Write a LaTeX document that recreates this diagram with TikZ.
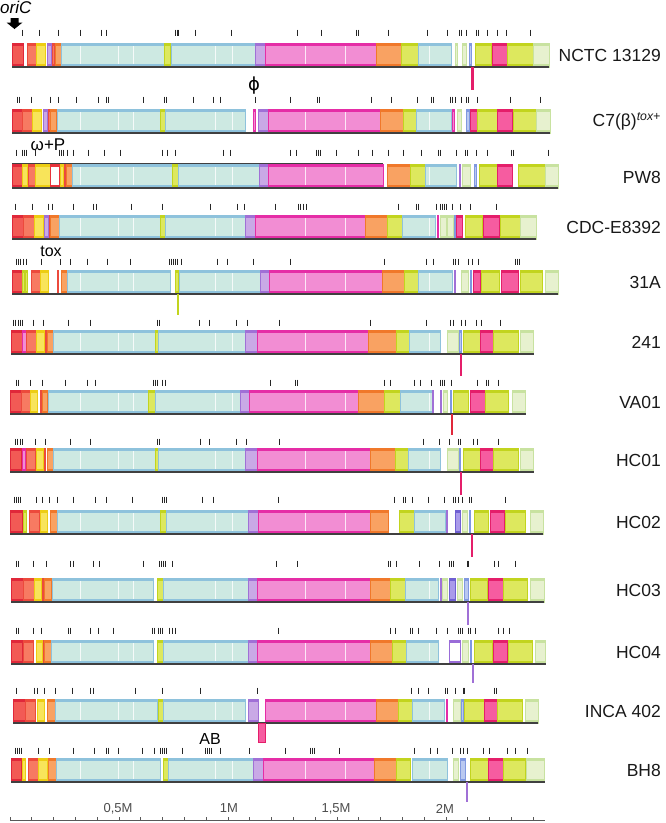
\documentclass[tikz,border=0pt]{standalone}
\usepackage{fontspec}
\setmainfont{Liberation Sans}
\newfontfamily\djv{DejaVu Sans}
\definecolor{Rlt}{HTML}{F25A55}\definecolor{Rdk}{HTML}{E0283A}
\definecolor{Slt}{HTML}{F77A62}\definecolor{Sdk}{HTML}{EC4A3C}
\definecolor{Ylt}{HTML}{F8E45A}\definecolor{Ydk}{HTML}{EDCD12}
\definecolor{Plt}{HTML}{C9A9E6}\definecolor{Pdk}{HTML}{A070D6}
\definecolor{Olt}{HTML}{F9A262}\definecolor{Odk}{HTML}{F0782A}
\definecolor{Clt}{HTML}{CDE9E2}\definecolor{Cdk}{HTML}{8EC2DC}
\definecolor{Glt}{HTML}{DDE85E}\definecolor{Gdk}{HTML}{C2D41E}
\definecolor{Llt}{HTML}{E7F1CF}\definecolor{Ldk}{HTML}{C8E2A0}
\definecolor{Mlt}{HTML}{F28DD3}\definecolor{Mdk}{HTML}{E52DA6}
\definecolor{Hlt}{HTML}{F65CA0}\definecolor{Hdk}{HTML}{E41E6A}
\definecolor{Blt}{HTML}{B9C8F0}\definecolor{Bdk}{HTML}{7F98E0}
\definecolor{Vlt}{HTML}{A99AEA}\definecolor{Vdk}{HTML}{6F5FD2}
\definecolor{Wlt}{HTML}{FFFFFF}\definecolor{Wdk}{HTML}{9A6CD8}
\definecolor{Xlt}{HTML}{FFFFFF}\definecolor{Xdk}{HTML}{E8333A}
\newcommand\blocks[2]{%
  \foreach \xa/\xb/\cl in {#2}{%
    \fill[fill=\cl lt] (\xa,#1) rectangle (\xb,#1+24);
    \fill[fill=\cl dk] (\xa,#1) rectangle (\xb,#1+2.6);
    \fill[fill=\cl dk] (\xa,#1+21.4) rectangle (\xb,#1+24);
    \draw[draw=\cl dk,line width=0.5pt] (\xa,#1) rectangle (\xb,#1+24);
  }%
  \foreach \g in {80,118,133,215,232,305,345,429}{%
    \fill[white,opacity=0.8] (\g-0.4,#1+3) rectangle (\g+0.4,#1+21);
  }}
\newcommand\tks[2]{\foreach \t in {#2}{\draw[tk] (\t,#1-6.5) -- (\t,#1);}}
\begin{document}
\begin{tikzpicture}[x=1pt,y=-1pt,
  tk/.style={line width=1pt,draw=black!85},
  base/.style={line width=1.3pt,draw=black!75},
  lab/.style={anchor=east,inner sep=0pt,font=\fontsize{17.5}{20}\selectfont,text=black!90},
  ann/.style={inner sep=0pt,font=\fontsize{16}{18}\selectfont,text=black},
  scl/.style={line width=1pt,draw=black!65},
  sclab/.style={inner sep=0pt,font=\fontsize{13}{15}\selectfont,text=black!70}]
\useasboundingbox (0,0) rectangle (666,823);
% oriC
\node[anchor=north west,inner sep=0pt,font=\itshape\fontsize{17}{20}\selectfont] (ori) at (0,1) {oriC};
\fill[black] (10.5,18) -- (18.5,18) -- (18.5,22.5) -- (22.5,22.5) -- (14.5,29) -- (6.5,22.5) -- (10.5,22.5) -- cycle;
% Track 1
\tks{36}{22,39,58,80,101,106,175,177,178,195,231,297,321,356,358,388,427,447,459,461,466,476,478,487,497,506,530}
\blocks{43}{12/23/R,27/36/S,36/45/Y,47/51/P,52/54/S,55/61/O,61/164/C,164/170/G,171/255/C,255/265/P,265/376/M,376/401/O,401/418/G,418/451/C,455/457/L,462/466/L,469/471/B,475/491/G,492/507/H,507/533/G,533/549/L}
\draw[base] (12,67) -- (549,67);
\fill[Hdk] (471,67) rectangle (474,90);
\node[lab] (l1) at (661,55) {NCTC 13129};
% Track 2
\node[ann,font=\djv\fontsize{18}{20}\selectfont] (phi) at (254,86) {ϕ};
\tks{103}{17,19,31,50,58,76,98,106,108,143,164,166,193,213,220,255,290,317,319,371,391,417,431,433,450,452,455,461,466,468,477,510,540}
\blocks{109}{12/22/R,22/32/S,32/41/Y,43/47/P,48/50/S,50/56/O,57/160/C,160/165/G,165/245/C,253/255/M,258/268/P,268/380/M,380/403/O,403/416/G,416/451/C,452/454/M,457/461/L,466/469/B,470/477/H,477/497/G,497/512/H,513/536/G,536/550/L}
\draw[base] (12,133) -- (550,133);
\node[lab] (l2) at (661,121) {C7(β)\textsuperscript{\itshape tox+}};
% Track 3
\node[ann,font=\fontsize{17}{19}\selectfont] (wp) at (48,145) {ω+P};
\tks{156}{16,22,24,26,35,59,61,63,67,73,88,104,120,162,167,175,223,230,290,296,316,318,320,336,358,372,388,403,421,438,440,456,465,467,476,487,511,513,548}
\blocks{164}{12/22/R,22/27/Y,28/35/S,35/50/Y,50/59/X,60/63/Y,64/65/S,66/72/O,72/172/C,172/178/G,178/259/C,259/268/P,268/383/M,387/410/O,410/425/G,425/456/C,459/460/P,462/470/L,474/476/B,479/497/G,497/512/H,518/545/G,545/558/L}
\draw[base] (12,163.5) -- (383,163.5);
\draw[base] (12,188) -- (558,188);
\node[lab] (l3) at (661,177) {PW8};
% Track 4
\tks{210}{15,32,48,52,73,93,96,131,162,210,237,244,275,298,300,303,306,398,416,418,436,440,442,444,446,452,460,470,496}
\blocks{215}{12/23/R,23/34/S,34/43/Y,44/48/P,49/50/S,50/59/O,59/160/C,160/165/G,165/245/C,245/255/P,255/365/M,365/387/O,387/402/G,402/435/C,437/438/M,440/446/L,447/453/L,454/455/B,456/462/H,465/482/G,483/499/H,500/520/G,520/536/L}
\draw[base] (12,239) -- (536,239);
\node[lab] (l4) at (661,227) {CDC-E8392};
% Track 5
\node[ann] (tox) at (51,251) {tox};
\tks{265}{16,18,20,23,26,41,60,70,87,107,130,169,171,173,175,177,181,217,227,253,290,384,426,433,453,455,458,468,472,478,515,517,519}
\blocks{270}{12/22/R,22/24/G,25/27/G,31/40/S,40/48/Y,57/58/S,61/67/O,67/170/C,175/178/G,179/260/C,260/269/P,269/382/M,382/404/O,404/418/G,418/452/C,454/455/P,461/468/L,470/471/B,473/480/H,481/499/G,501/518/H,520/542/G,545/558/L}
\draw[base] (12,294) -- (558,294);
\fill[Gdk] (177,294) rectangle (179,315);
\node[lab] (l5) at (661,282) {31A};
% Track 6
\tks{326}{13,15,18,20,22,33,43,68,90,157,159,199,209,236,247,279,370,426,450,453,461,465,476,481,500}
\blocks{330}{11/22/R,22/26/M,26/36/S,36/44/Y,45/46/S,47/53/O,53/155/C,155/158/G,158/245/C,245/257/P,257/368/M,368/396/O,396/409/G,409/440/C,447/458/L,459/461/B,463/480/G,480/493/H,493/518/G,520/533/L}
\draw[base] (11,354) -- (534,354);
\fill[Hdk] (460,354) rectangle (462,376);
\node[lab] (l6) at (661,342) {241};
% Track 7
\tks{386}{16,18,30,42,65,87,95,153,155,157,162,165,270,295,297,384,390,414,420,431,440,442,444,451,477,486,488,498}
\blocks{390}{10/21/R,21/30/S,30/37/Y,40/41/S,42/47/O,48/148/C,148/155/G,155/240/C,240/249/P,249/358/M,358/384/O,384/400/G,400/432/C,432/433/P,440/441/P,443/447/L,450/451/B,453/468/G,470/485/H,485/508/G,512/525/L}
\draw[base] (10,414) -- (526,414);
\fill[Rdk] (451,414) rectangle (453,435);
\node[lab] (l7) at (661,402) {VA01};
% Track 8
\tks{445}{15,17,20,22,35,45,70,90,157,159,200,209,236,246,279,423,439,449,458,460,473,477,498}
\blocks{448}{10/21/R,22/25/M,26/35/S,36/43/Y,44/45/S,47/53/O,53/155/C,155/158/G,158/245/C,245/257/P,257/370/M,370/395/O,395/408/G,408/440/C,447/458/L,459/460/B,463/480/G,480/493/H,493/518/G,520/533/L}
\draw[base] (10,472) -- (534,472);
\fill[Hdk] (460,472) rectangle (462,495);
\node[lab] (l8) at (661,460) {HC01};
% Track 9
\tks{503}{14,16,18,20,36,42,49,57,73,95,106,132,162,164,166,202,213,278,394,403,405,412,428,444,453,455,458,462,469,471,505}
\blocks{510}{10/22/R,23/26/G,29/39/S,40/47/Y,50/57/O,57/160/C,160/166/G,166/248/C,248/258/P,258/370/M,370/388/O,399/414/G,414/445/C,446/447/P,455/460/V,462/467/L,469/470/B,474/488/G,490/504/H,505/525/G,530/543/L}
\draw[base] (10,534) -- (543,534);
\fill[Hdk] (471,534) rectangle (473,557);
\node[lab] (l9) at (661,522) {HC02};
% Track 10
\tks{567}{16,18,33,46,70,73,93,99,143,159,161,163,165,172,276,297,388,390,396,419,439,449,451,453,467,468,494,498,515}
\blocks{578}{11/23/R,23/34/S,34/41/Y,42/43/S,44/51/O,52/153/C,157/163/G,163/248/C,248/257/P,257/370/M,370/390/O,390/405/G,405/438/C,440/441/P,442/447/L,449/455/V,457/462/L,464/468/B,470/487/G,488/503/H,503/527/G,530/544/L}
\draw[base] (11,602) -- (544,602);
\fill[Pdk] (467,602) rectangle (469,625);
\node[lab] (l10) at (661,590) {HC03};
% Track 11
\tks{634}{16,18,33,41,68,70,90,98,113,152,154,158,160,162,169,172,175,278,390,395,410,412,418,436,447,458,460,462,468,470,475,498,503,509}
\blocks{640}{11/22/R,23/33/S,36/42/Y,43/44/S,44/51/O,51/153/C,157/163/G,163/248/C,248/257/P,257/370/M,370/392/O,392/406/G,406/438/C,449/460/W,462/468/L,470/471/B,474/492/G,493/507/H,508/532/G,535/545/L}
\draw[base] (11,664) -- (546,664);
\fill[Pdk] (472,664) rectangle (474,683);
\node[lab] (l11) at (661,652) {HC04};
% Track 12
\tks{694}{16,34,37,44,55,72,90,93,135,162,200,257,411,418,428,445,447,455,463,464,494,496}
\blocks{699}{13/25/R,25/35/S,37/44/Y,47/55/O,55/157/C,158/163/G,163/245/C,248/258/P,265/376/M,376/398/O,398/412/G,412/444/C,446/447/M,453/460/L,461/463/B,464/484/G,484/497/H,497/522/G,525/538/L}
\draw[base] (13,723) -- (538,723);
\draw[fill=Hlt,draw=Hdk,line width=0.8pt] (258,723) rectangle (265,742);
\node[lab] (l12) at (661,711) {INCA 402};
% Track 13
\node[ann] (ab) at (210,739) {AB};
\tks{754}{15,17,19,21,38,49,73,94,106,108,118,142,154,160,162,164,166,182,205,207,209,211,220,249,285,310,312,314,339,414,430,437,452,460,463,467,483,489,507,515,527}
\blocks{758}{11/21/R,22/25/Y,28/38/S,38/47/Y,48/56/O,56/160/C,163/168/G,168/253/C,253/263/P,263/374/M,374/396/O,396/410/G,412/447/C,453/458/L,460/465/B,470/488/G,488/503/H,503/525/G,526/544/L}
\draw[base] (11,782) -- (545,782);
\fill[Pdk] (466,782) rectangle (468,802);
\node[lab] (l13) at (661,770) {BH8};
% scale
\draw[scl] (10,820) -- (545,820);
\foreach \k in {0,...,24}{\draw[scl] ({10+21.8*\k},820) -- ({10+21.8*\k},816.5);}
\node[sclab] (s1) at (118,808.5) {0,5M};
\node[sclab] (s2) at (229,808.5) {1M};
\node[sclab] (s3) at (336,808.5) {1,5M};
\node[sclab] (s4) at (445,808.5) {2M};
\end{tikzpicture}
\end{document}
